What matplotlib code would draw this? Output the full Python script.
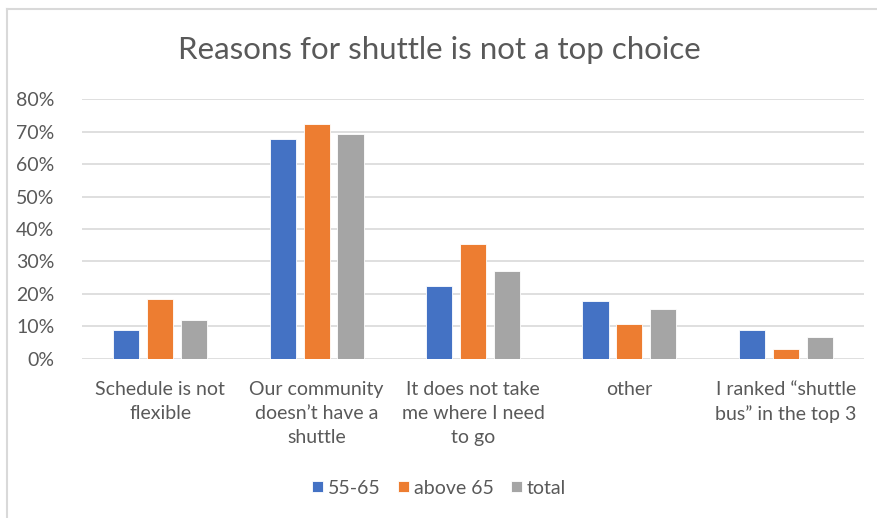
import numpy as np
import matplotlib
matplotlib.use("Agg")
import matplotlib.pyplot as plt
from matplotlib.ticker import PercentFormatter
from matplotlib.lines import Line2D

plt.rcParams['font.family'] = ['Lato', 'DejaVu Sans']

# data
categories = [
    "Schedule is not\nflexible",
    "Our community\ndoesn\u2019t have a\nshuttle",
    "It does not take\nme where I need\nto go",
    "other",
    "I ranked \u201cshuttle\nbus\u201d in the top 3",
]
series_names = ["55-65", "above 65", "total"]
age_55_65 = [0.089, 0.677, 0.223, 0.178, 0.089]
above_65 = [0.184, 0.724, 0.353, 0.106, 0.031]
total = [0.119, 0.693, 0.270, 0.152, 0.067]
colors = ["#4472C4", "#ED7D31", "#A5A5A5"]

fig = plt.figure(figsize=(8.78, 5.18), dpi=100)
ax = fig.add_axes([82 / 878, 1 - 358.7 / 518, 782 / 878, 259.4 / 518])

x = np.arange(len(categories))
width = 0.167
step = 0.217
for i, (vals, name, c) in enumerate(zip([age_55_65, above_65, total], series_names, colors)):
    ax.bar(x + (i - 1) * step, vals, width, color=c, label=name,
           edgecolor="white", linewidth=0.6, zorder=3)

ax.set_xlim(-0.5, len(categories) - 0.5)
ax.set_ylim(0, 0.8)
ax.set_yticks(np.arange(0, 0.81, 0.1))
ax.yaxis.set_major_formatter(PercentFormatter(1.0, decimals=0))
ax.grid(axis="y", color="#D9D9D9", linewidth=1.2, zorder=0)
for s in ax.spines.values():
    s.set_visible(False)
ax.tick_params(axis="both", length=0, colors="#595959", labelsize=14)
ax.tick_params(axis="y", pad=20)
ax.tick_params(axis="x", pad=16)
ax.set_xticks(x)
ax.set_xticklabels(categories, linespacing=1.5)

fig.text(0.5, 1 - 50 / 518, "Reasons for shuttle is not a top choice",
         ha="center", va="center", fontsize=22.5, color="#595959")

fig.legend(loc="center", bbox_to_anchor=(0.5, 1 - 488 / 518), ncol=3,
           frameon=False, fontsize=14, labelcolor="#595959",
           handlelength=0.55, handleheight=0.55, handletextpad=0.25, columnspacing=0.9)

# chart area border (left and top edges visible in the reference)
fig.add_artist(Line2D([7.5 / 878, 7.5 / 878], [0, 1 - 8.5 / 518],
                      transform=fig.transFigure, color="#D9D9D9", linewidth=1.5))
fig.add_artist(Line2D([7.5 / 878, 1], [1 - 8.5 / 518, 1 - 8.5 / 518],
                      transform=fig.transFigure, color="#D9D9D9", linewidth=1.5))

fig.savefig("out.png", dpi=100)
